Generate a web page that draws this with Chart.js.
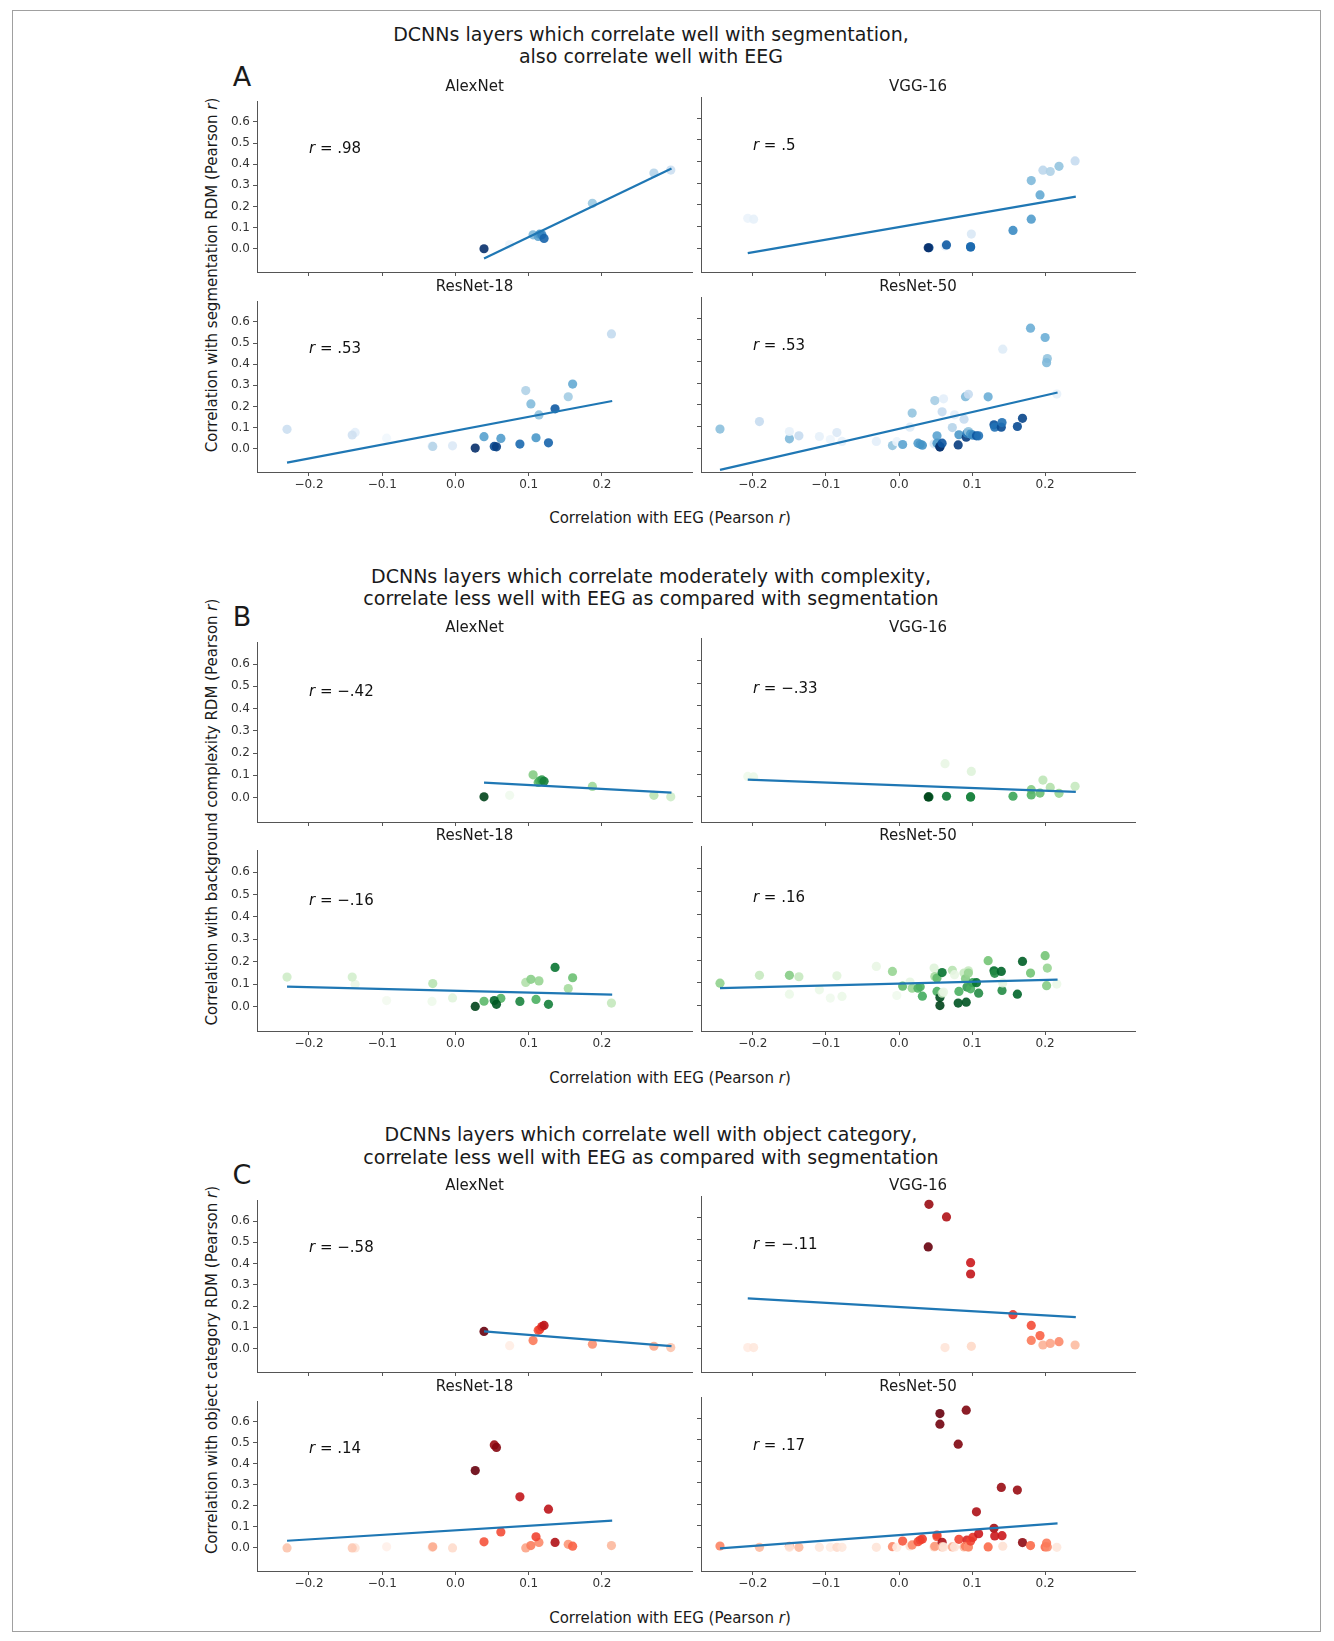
<!DOCTYPE html>
<html><head><meta charset="utf-8">
<script src="https://cdn.jsdelivr.net/npm/chart.js@4.4.0/dist/chart.umd.min.js"></script>
<style>
body{margin:0;width:1334px;height:1641px;background:#fff;position:relative;font-family:'DejaVu Sans',sans-serif;overflow:hidden}
.frame{position:absolute;left:12px;top:10px;width:1309px;height:1622px;border:1px solid #a0a0a0;box-sizing:border-box}
.t{position:absolute;white-space:nowrap;color:#1a1a1a;line-height:1;transform:translate(-50%,-50%)}
canvas{position:absolute}
</style></head><body>
<div class="frame"></div>
<script>
// ---------------- DATA ----------------
const netNames = ['AlexNet', 'VGG-16', 'ResNet-18', 'ResNet-50'];
const xTicks = [-0.2, -0.1, 0, 0.1, 0.2];
const yTicks = [0, 0.1, 0.2, 0.3, 0.4, 0.5, 0.6];
const rSeg = ['.98', '.5', '.53', '.53'];
const rCpx = ['\u2212.42', '\u2212.33', '\u2212.16', '.16'];
const rCat = ['\u2212.58', '\u2212.11', '.14', '.17'];
const sectionTitles = [
  ['DCNNs layers which correlate well with segmentation,', 'also correlate well with EEG'],
  ['DCNNs layers which correlate moderately with complexity,', 'correlate less well with EEG as compared with segmentation'],
  ['DCNNs layers which correlate well with object category,', 'correlate less well with EEG as compared with segmentation']
];
const sectionLetters = ['A', 'B', 'C'];
const yLabels = ['Correlation with segmentation RDM (Pearson <i>r</i>)',
  'Correlation with background complexity RDM (Pearson <i>r</i>)',
  'Correlation with object category RDM (Pearson <i>r</i>)'];
const xLabel = 'Correlation with EEG (Pearson <i>r</i>)';

// AlexNet layers (x = EEG correlation, shade = layer depth)
const alexX     = [0.074, 0.294, 0.271, 0.187, 0.106, 0.113, 0.115, 0.118, 0.121, 0.039];
const alexShade = [0.05, 0.22, 0.30, 0.38, 0.45, 0.55, 0.60, 0.68, 0.80, 1.00];
const alexSeg   = [0.020, 0.372, 0.358, 0.215, 0.066, 0.058, 0.069, 0.066, 0.049, 0.000];
const alexCpx   = [0.010, 0.003, 0.010, 0.050, 0.102, 0.068, 0.075, 0.079, 0.073, 0.003];
const alexCat   = [0.014, 0.005, 0.011, 0.021, 0.038, 0.086, 0.090, 0.104, 0.109, 0.081];
const alexLineX = [0.039, 0.295];
const alexSegLine = [-0.046, 0.380];
const alexCpxLine = [0.067, 0.022];
const alexCatLine = [0.081, 0.012];

// VGG-16
const vggX     = [-0.207, -0.199, 0.063, 0.099, 0.241, 0.197, 0.207, 0.219, 0.181, 0.193, 0.181, 0.156, 0.098, 0.098, 0.065, 0.041, 0.040];
const vggShade = [0.06, 0.08, 0.10, 0.15, 0.25, 0.28, 0.32, 0.40, 0.45, 0.52, 0.58, 0.65, 0.75, 0.78, 0.84, 0.90, 1.00];
const vggSeg   = [0.138, 0.134, 0.010, 0.065, 0.403, 0.360, 0.354, 0.378, 0.312, 0.246, 0.134, 0.082, 0.006, 0.006, 0.015, 0.002, 0.002];
const vggCpx   = [0.090, 0.088, 0.146, 0.112, 0.047, 0.074, 0.042, 0.016, 0.032, 0.017, 0.009, 0.003, 0.000, 0.000, 0.003, 0.000, 0.000];
const vggCat   = [0.002, 0.002, 0.002, 0.008, 0.014, 0.014, 0.021, 0.029, 0.035, 0.057, 0.104, 0.153, 0.392, 0.340, 0.602, 0.660, 0.464];
const vggLineX = [-0.207, 0.242];
const vggSegLine = [-0.023, 0.238];
const vggCpxLine = [0.076, 0.022];
const vggCatLine = [0.228, 0.142];

// ResNet-18
const r18X     = [-0.094, -0.032, -0.137, -0.004, -0.141, -0.230, 0.213, -0.031, 0.096, 0.154, 0.114, 0.103, 0.160, 0.039, 0.062, 0.110, 0.088, 0.127, 0.136, 0.053, 0.056, 0.027];
const r18Shade = [0.03, 0.06, 0.10, 0.14, 0.20, 0.22, 0.26, 0.30, 0.32, 0.36, 0.40, 0.44, 0.52, 0.56, 0.58, 0.60, 0.78, 0.80, 0.84, 0.90, 0.94, 1.00];
const r18Seg   = [0.050, 0.012, 0.077, 0.014, 0.065, 0.092, 0.543, 0.011, 0.275, 0.246, 0.160, 0.212, 0.306, 0.057, 0.049, 0.052, 0.022, 0.028, 0.189, 0.011, 0.009, 0.003];
const r18Cpx   = [0.026, 0.022, 0.099, 0.038, 0.131, 0.131, 0.015, 0.102, 0.107, 0.080, 0.114, 0.121, 0.128, 0.023, 0.036, 0.031, 0.022, 0.009, 0.174, 0.026, 0.009, 0.000];
const r18Cat   = [0.005, 0.002, 0.000, 0.000, 0.000, 0.000, 0.011, 0.005, 0.000, 0.017, 0.026, 0.011, 0.008, 0.029, 0.076, 0.053, 0.243, 0.184, 0.026, 0.490, 0.478, 0.368];
const r18LineX = [-0.230, 0.214];
const r18SegLine = [-0.066, 0.226];
const r18CpxLine = [0.088, 0.053];
const r18CatLine = [0.034, 0.130];

// ResNet-50
const r50X = [-0.245, -0.191, -0.150, -0.150, -0.137, -0.109, -0.094, -0.085, -0.078, -0.031,
  -0.009, -0.003, 0.005, 0.015, 0.018, 0.026, 0.029, 0.032, 0.048, 0.049,
  0.052, 0.052, 0.056, 0.056, 0.059, 0.059, 0.061, 0.073, 0.076, 0.081,
  0.082, 0.089, 0.092, 0.093, 0.091, 0.095, 0.095, 0.098, 0.101, 0.106,
  0.109, 0.122, 0.130, 0.131, 0.140, 0.141, 0.142, 0.162, 0.169, 0.180,
  0.200, 0.203, 0.202, 0.216];
const r50Shade = [0.42, 0.25, 0.45, 0.08, 0.25, 0.08, 0.05, 0.14, 0.08, 0.10,
  0.40, 0.05, 0.55, 0.12, 0.40, 0.58, 0.60, 0.62, 0.15, 0.35,
  0.55, 0.60, 1.00, 0.98, 0.85, 0.25, 0.10, 0.30, 0.10, 0.95,
  0.60, 0.25, 0.95, 0.70, 0.45, 0.25, 0.40, 0.60, 0.65, 0.85,
  0.75, 0.50, 0.88, 0.75, 0.90, 0.75, 0.12, 0.90, 0.92, 0.50,
  0.50, 0.40, 0.45, 0.08];
const r50Seg = [0.088, 0.123, 0.043, 0.077, 0.057, 0.054, 0.040, 0.072, 0.031, 0.031,
  0.012, 0.030, 0.017, 0.097, 0.162, 0.023, 0.018, 0.014, 0.020, 0.220,
  0.057, 0.023, 0.005, 0.008, 0.023, 0.168, 0.228, 0.095, 0.154, 0.015,
  0.062, 0.134, 0.051, 0.069, 0.238, 0.249, 0.077, 0.065, 0.060, 0.057,
  0.057, 0.237, 0.108, 0.097, 0.097, 0.118, 0.457, 0.100, 0.138, 0.554,
  0.511, 0.414, 0.395, 0.250];
const r50Cpx = [0.099, 0.133, 0.133, 0.051, 0.127, 0.070, 0.034, 0.131, 0.041, 0.172,
  0.150, 0.045, 0.086, 0.104, 0.077, 0.077, 0.083, 0.042, 0.165, 0.128,
  0.121, 0.063, 0.001, 0.036, 0.145, 0.055, 0.060, 0.155, 0.136, 0.012,
  0.063, 0.143, 0.016, 0.082, 0.118, 0.153, 0.143, 0.074, 0.101, 0.101,
  0.055, 0.197, 0.153, 0.142, 0.150, 0.067, 0.100, 0.051, 0.194, 0.143,
  0.219, 0.165, 0.088, 0.095];
const r50Cat = [0.006, 0.000, 0.005, 0.000, 0.000, 0.000, 0.000, 0.000, 0.000, 0.000,
  0.003, 0.000, 0.029, 0.006, 0.011, 0.026, 0.034, 0.039, 0.002, 0.005,
  0.049, 0.057, 0.621, 0.572, 0.023, 0.002, 0.002, 0.002, 0.002, 0.479,
  0.037, 0.002, 0.637, 0.034, 0.005, 0.002, 0.002, 0.029, 0.046, 0.165,
  0.063, 0.002, 0.088, 0.053, 0.278, 0.054, 0.005, 0.266, 0.022, 0.008,
  0.002, 0.002, 0.020, 0.000];
const r50LineX = [-0.245, 0.217];
const r50SegLine = [-0.100, 0.257];
const r50CpxLine = [0.077, 0.114];
const r50CatLine = [-0.005, 0.111];

// ---------------- STYLE / LAYOUT ----------------
const FONT = "'DejaVu Sans'";
const XMIN = -0.271, XMAX = 0.323, YMIN = -0.110, YMAX = 0.698;
const R_POS = [-0.2, 0.472];
const colLeft = [257, 701], colRight = [692, 1135];
const rowTop = [97, 297, 638, 846, 1196, 1397];
const rowBottom = [272, 472, 822, 1031, 1372, 1571];
const titleY = [[33.5, 56], [575.5, 598], [1134, 1156.5]];
const letterY = [76, 616, 1174];
const yLabelY = [275, 812, 1370];
const xLabelY = [518, 1077.5, 1617.5];
const YW = 45, XH = 22, PT = 6, PR = 6;

const CMAPS = {
  Blues: ['#f7fbff','#deebf7','#c6dbef','#9ecae1','#6baed6','#4292c6','#2171b5','#08519c','#08306b'],
  Greens: ['#f7fcf5','#e5f5e0','#c7e9c0','#a1d99b','#74c476','#41ab5d','#238b45','#006d2c','#00441b'],
  Reds: ['#fff5f0','#fee0d2','#fcbba1','#fc9272','#fb6a4a','#ef3b2c','#cb181d','#a50f15','#67000d']
};
function hex(h){return [1,3,5].map(i=>parseInt(h.substr(i,2),16));}
function cmapColor(name, t, alpha){
  const st = CMAPS[name]; const p = Math.max(0, Math.min(1, t)) * (st.length - 1);
  const i = Math.min(Math.floor(p), st.length - 2), f = p - i;
  const a = hex(st[i]), b = hex(st[i+1]);
  const c = a.map((v,k)=>Math.round(v + (b[k]-v)*f));
  return `rgba(${c[0]},${c[1]},${c[2]},${alpha})`;
}

const NETS = [
  {x: alexX, shade: alexShade, ys: [alexSeg, alexCpx, alexCat], lx: alexLineX, ly: [alexSegLine, alexCpxLine, alexCatLine]},
  {x: vggX, shade: vggShade, ys: [vggSeg, vggCpx, vggCat], lx: vggLineX, ly: [vggSegLine, vggCpxLine, vggCatLine]},
  {x: r18X, shade: r18Shade, ys: [r18Seg, r18Cpx, r18Cat], lx: r18LineX, ly: [r18SegLine, r18CpxLine, r18CatLine]},
  {x: r50X, shade: r50Shade, ys: [r50Seg, r50Cpx, r50Cat], lx: r50LineX, ly: [r50SegLine, r50CpxLine, r50CatLine]}
];
const SECTIONS = [
  {cmap: 'Blues', r: rSeg}, {cmap: 'Greens', r: rCpx}, {cmap: 'Reds', r: rCat}
];

function addText(html, x, y, size, extra){
  const d = document.createElement('div');
  d.className = 't'; d.innerHTML = html;
  d.style.left = x + 'px'; d.style.top = y + 'px'; d.style.fontSize = size + 'px';
  if (extra) Object.assign(d.style, extra);
  document.body.appendChild(d);
}

const rTextPlugin = {
  id: 'rtext',
  afterDatasetsDraw(chart, args, opts){
    const {ctx, scales:{x, y}} = chart;
    const px = x.getPixelForValue(R_POS[0]), py = y.getPixelForValue(R_POS[1]);
    ctx.save();
    ctx.fillStyle = '#111'; ctx.textBaseline = 'middle'; ctx.textAlign = 'left';
    ctx.font = `italic 15px ${FONT}`;
    ctx.fillText('r', px, py);
    const w = ctx.measureText('r').width;
    ctx.font = `15px ${FONT}`;
    ctx.fillText(' = ' + opts.txt, px + w, py);
    ctx.restore();
  }
};

function fmtX(v){ if (Math.abs(v) < 1e-9) return '0.0'; return (v < 0 ? '\u2212' : '') + Math.abs(v).toFixed(1); }

function makePanel(s, row, col){
  const netIdx = row * 2 + col;
  const net = NETS[netIdx], sec = SECTIONS[s];
  const L = colLeft[col], R = colRight[col], T = rowTop[s*2+row], B = rowBottom[s*2+row];
  const showX = row === 1, showY = col === 0;
  const W = R - L + YW + PR, H = B - T + PT + XH;
  const cv = document.createElement('canvas');
  cv.width = W; cv.height = H;
  cv.style.left = (L - YW) + 'px'; cv.style.top = (T - PT) + 'px';
  cv.style.width = W + 'px'; cv.style.height = H + 'px';
  document.body.appendChild(cv);
  addText(netNames[netIdx], (L + R) / 2, T - 11, 15);
  const ys = net.ys[s];
  const axisCommon = {
    type: 'linear',
    grid: {drawOnChartArea: false, drawTicks: true, tickLength: 4, tickColor: '#555', tickWidth: 1},
    border: {display: true, color: '#555', width: 1}
  };
  new Chart(cv, {
    type: 'scatter',
    data: {datasets: [
      {data: net.lx.map((x, i) => ({x, y: net.ly[s][i]})), showLine: true, borderColor: '#1f77b4',
       borderWidth: 2.2, pointRadius: 0, order: 0, clip: false},
      {data: net.x.map((x, i) => ({x, y: ys[i]})), backgroundColor: net.shade.map(t => cmapColor(sec.cmap, t, 0.9)),
       pointRadius: 4.6, pointBorderWidth: 0, pointHoverRadius: 4.6, order: 1, clip: false}
    ]},
    options: {
      responsive: false, animation: false, devicePixelRatio: 1, events: [],
      layout: {padding: {left: 0, top: PT, right: PR, bottom: 0}},
      plugins: {legend: {display: false}, tooltip: {enabled: false}, rtext: {txt: sec.r[netIdx]}},
      scales: {
        x: Object.assign({}, axisCommon, {
          min: XMIN, max: XMAX,
          afterBuildTicks: a => { a.ticks = xTicks.map(v => ({value: v})); },
          afterFit: sc => { sc.height = XH; },
          ticks: {display: showX, font: {family: FONT, size: 12}, color: '#333', padding: 2, autoSkip: false, maxRotation: 0, callback: v => fmtX(v)}
        }),
        y: Object.assign({}, axisCommon, {
          min: YMIN, max: YMAX,
          afterBuildTicks: a => { a.ticks = yTicks.map(v => ({value: v})); },
          afterFit: sc => { sc.width = YW; },
          ticks: {display: showY, font: {family: FONT, size: 12}, color: '#333', padding: 3, autoSkip: false, callback: v => v.toFixed(1)}
        })
      }
    },
    plugins: [rTextPlugin]
  });
}

for (let s = 0; s < 3; s++) {
  addText(sectionTitles[s][0], 651, titleY[s][0], 19);
  addText(sectionTitles[s][1], 651, titleY[s][1], 19);
  addText(sectionLetters[s], 242, letterY[s], 27);
  addText(yLabels[s], 212, yLabelY[s], 15, {transform: 'translate(-50%,-50%) rotate(-90deg)'});
  addText(xLabel, 670, xLabelY[s], 15);
  for (let row = 0; row < 2; row++) for (let col = 0; col < 2; col++) makePanel(s, row, col);
}
</script>
</body></html>
